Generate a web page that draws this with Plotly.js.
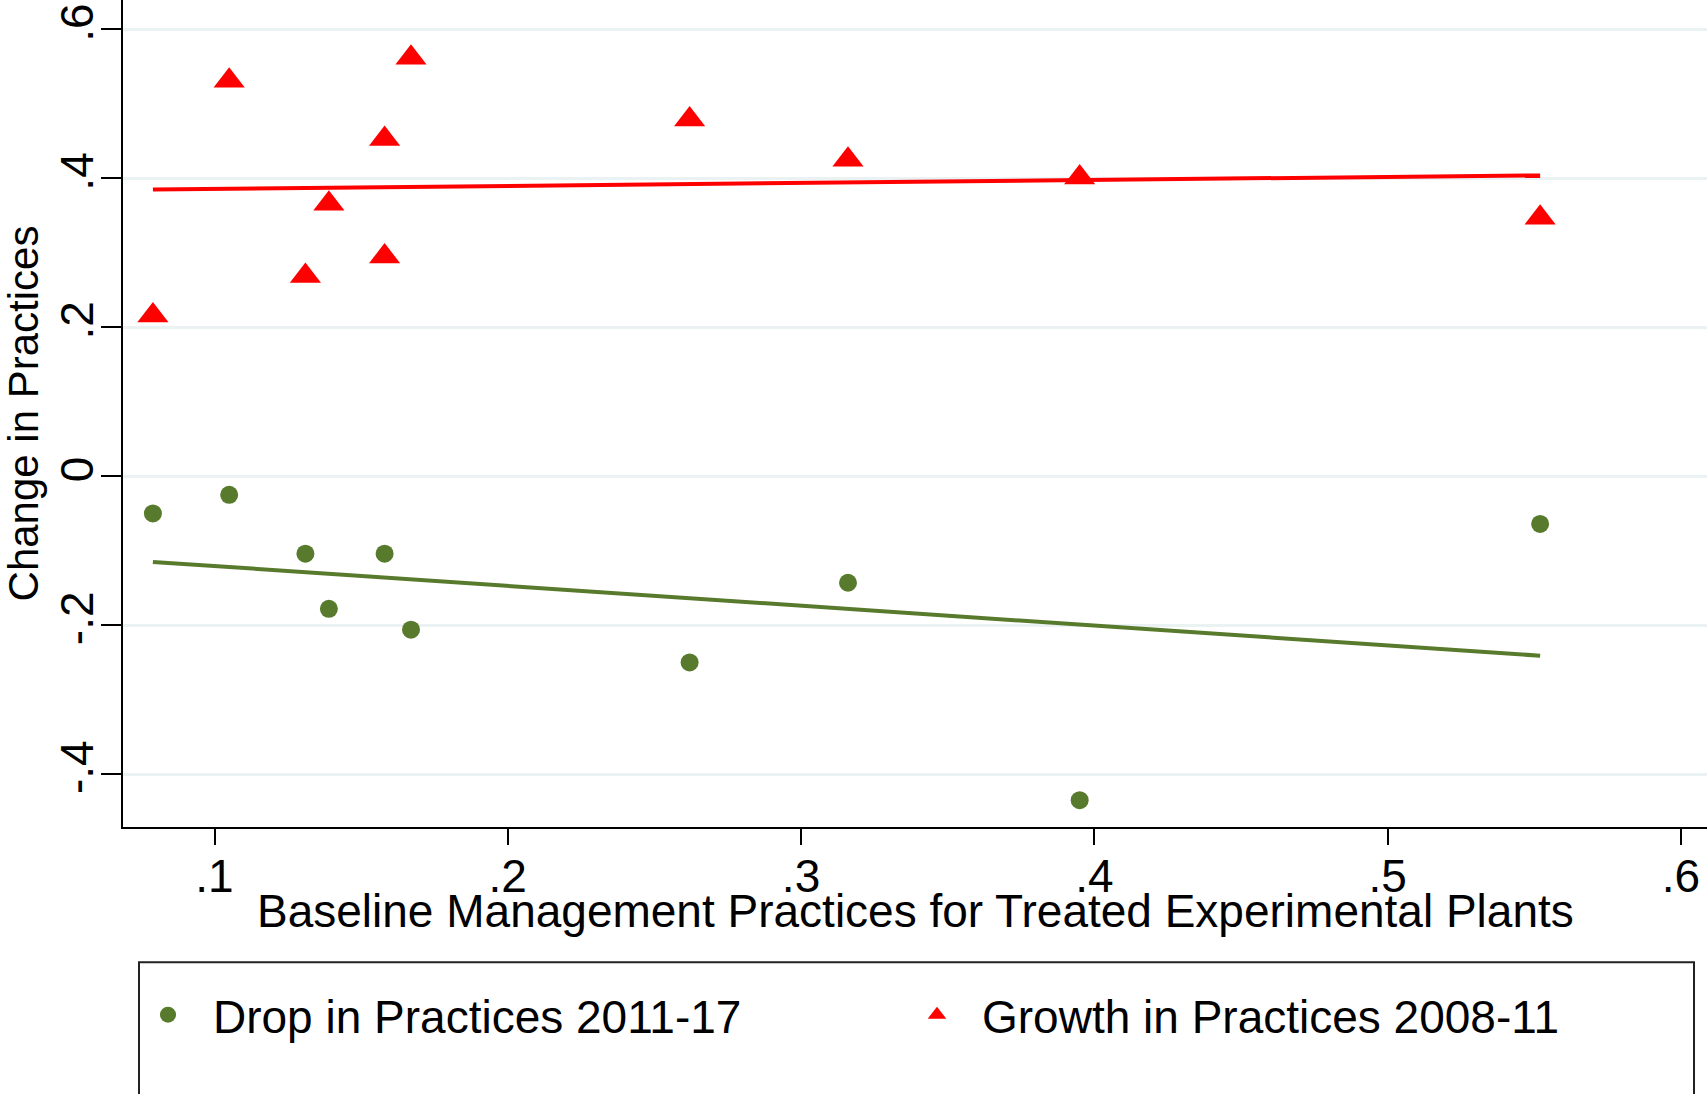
<!DOCTYPE html>
<html>
<head>
<meta charset="utf-8">
<script src="https://cdn.plot.ly/plotly-3.0.1.min.js"></script>
<style>html,body{margin:0;padding:0;background:#fff;}#chart{width:1707px;height:1094px;}</style>
</head>
<body>
<div id="chart"></div>
<script>
// Data
var growthX = [0.079, 0.105, 0.131, 0.139, 0.158, 0.158, 0.167, 0.262, 0.316, 0.395, 0.552];
var growthY = [0.216, 0.531, 0.269, 0.366, 0.453, 0.295, 0.562, 0.479, 0.425, 0.401, 0.347];
var dropX = [0.079, 0.105, 0.131, 0.139, 0.158, 0.167, 0.262, 0.316, 0.395, 0.552];
var dropY = [-0.050, -0.025, -0.104, -0.178, -0.104, -0.206, -0.250, -0.143, -0.435, -0.064];
var fitX = [0.079, 0.552];
var growthFitY = [0.385, 0.404];
var dropFitY = [-0.115, -0.241];
var xTickVals = [0.1, 0.2, 0.3, 0.4, 0.5, 0.6];
var xTickText = ['.1', '.2', '.3', '.4', '.5', '.6'];
var yTickVals = [-0.4, -0.2, 0, 0.2, 0.4, 0.6];
var yTickText = ['-.4', '-.2', '0', '.2', '.4', '.6'];
var seriesNames = ['Drop in Practices 2011-17', 'Growth in Practices 2008-11'];
var xTitle = 'Baseline Management Practices for Treated Experimental Plants';
var yTitle = 'Change in Practices';

var GREEN = '#587a2c';
var RED = '#ff0000';
var FONT = 'Liberation Sans, Arial, sans-serif';

var traces = [
  {x: dropX, y: dropY, type: 'scatter', mode: 'markers', name: seriesNames[0],
   marker: {symbol: 'circle', size: 18, color: GREEN}},
  {x: growthX, y: growthY, type: 'scatter', mode: 'markers', name: seriesNames[1],
   marker: {symbol: 'triangle-up', size: 27, color: RED}},
  {x: fitX, y: growthFitY, type: 'scatter', mode: 'lines', showlegend: false,
   line: {color: RED, width: 4}},
  {x: fitX, y: dropFitY, type: 'scatter', mode: 'lines', showlegend: false,
   line: {color: GREEN, width: 4}}
];

var layout = {
  width: 1707, height: 1094,
  margin: {l: 123, r: 0, t: 0, b: 267, pad: 0},
  paper_bgcolor: '#ffffff', plot_bgcolor: '#ffffff',
  font: {family: FONT, size: 46, color: '#000'},
  showlegend: true,
  legend: {
    orientation: 'h', x: 0.0, xanchor: 'left', y: -0.227, yanchor: 'middle',
    bgcolor: 'rgba(0,0,0,0)', borderwidth: 0,
    font: {family: FONT, size: 46, color: '#000'},
    itemwidth: 80, entrywidth: 674, entrywidthmode: 'pixels',
    traceorder: 'normal'
  },
  xaxis: {
    range: [0.0688, 0.6089], autorange: false,
    tickmode: 'array', tickvals: xTickVals, ticktext: xTickText,
    ticks: 'outside', ticklen: 16, tickwidth: 2, tickcolor: '#000',
    showline: true, linecolor: '#000', linewidth: 2,
    showgrid: false, zeroline: false,
    tickfont: {family: FONT, size: 46, color: '#000'},
    ticklabelstandoff: -8
  },
  yaxis: {
    range: [-0.471, 0.6395], autorange: false,
    tickmode: 'array', tickvals: yTickVals, ticktext: yTickText,
    ticks: 'outside', ticklen: 20, tickwidth: 2, tickcolor: '#000',
    tickangle: -90,
    ticklabelstandoff: -10,
    showline: true, linecolor: '#000', linewidth: 2,
    showgrid: true, gridcolor: '#eaf2f3', gridwidth: 3,
    zeroline: false,
    tickfont: {family: FONT, size: 46, color: '#000'},
    title: {text: yTitle,
            font: {family: FONT, size: 42, color: '#000'}, standoff: 0}
  },
  annotations: [
    {text: xTitle, xref: 'paper', yref: 'paper', x: 0.5, y: -0.101,
     xanchor: 'center', yanchor: 'middle', showarrow: false,
     font: {family: FONT, size: 46, color: '#000'}}
  ],
  shapes: [
    {type: 'rect', xref: 'paper', yref: 'paper',
     x0: 0.0101, x1: 0.9918, y0: -0.1635, y1: -0.36,
     line: {color: '#222', width: 2}, fillcolor: 'rgba(0,0,0,0)', layer: 'below'}
  ]
};

Plotly.newPlot('chart', traces, layout, {displayModeBar: false, staticPlot: true});
</script>
</body>
</html>
